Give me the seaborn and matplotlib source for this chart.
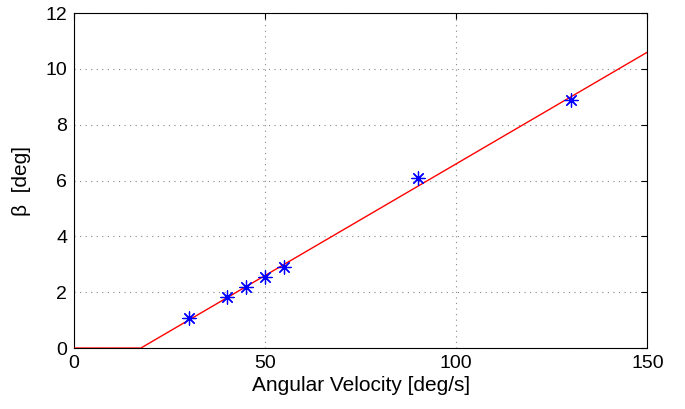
import matplotlib
matplotlib.use("Agg")
import matplotlib.pyplot as plt
import seaborn as sns
import pandas as pd

# measured points
ang_vel = [30, 40, 45, 50, 55, 90, 130]
beta = [1.07, 1.82, 2.18, 2.53, 2.9, 6.08, 8.9]

# fitted curve (clipped at zero)
fit_x = [0, 17.5, 150]
fit_y = [0, 0, 10.6]

sns.set_style("white", {'text.color': 'black', 'axes.labelcolor': 'black',
                        'xtick.color': 'black', 'ytick.color': 'black'})
plt.rcParams['font.family'] = ['Liberation Sans', 'DejaVu Sans']

fig, ax = plt.subplots(figsize=(6.85, 4.09), dpi=100)
fig.subplots_adjust(left=0.108, right=0.945, top=0.968, bottom=0.149)

pts = pd.DataFrame({'x': ang_vel, 'y': beta})
fit = pd.DataFrame({'x': fit_x, 'y': fit_y})

sns.lineplot(data=fit, x='x', y='y', color='red', linewidth=1, ax=ax, zorder=3)
sns.scatterplot(data=pts, x='x', y='y', marker=(8, 2, 0), color='blue',
                s=90, linewidth=0.9, ax=ax, zorder=4)

ax.set_xlim(0, 150)
ax.set_ylim(0, 12)
ax.set_xticks([0, 50, 100, 150])
ax.set_yticks(range(0, 13, 2))
ax.grid(True, linestyle=(0, (1, 4)), color='#888888', linewidth=0.8)
ax.tick_params(direction='in', top=True, right=True, length=4, width=0.8,
               labelsize=14, color='black', labelcolor='black', pad=5)
for s in ax.spines.values():
    s.set_color('black')
    s.set_linewidth(0.8)

ax.set_xlabel('Angular Velocity [deg/s]', fontsize=15, labelpad=3, color='black')
ax.set_ylabel('β  [deg]', fontsize=15, labelpad=10, color='black')

plt.savefig('out.png', dpi=100)
